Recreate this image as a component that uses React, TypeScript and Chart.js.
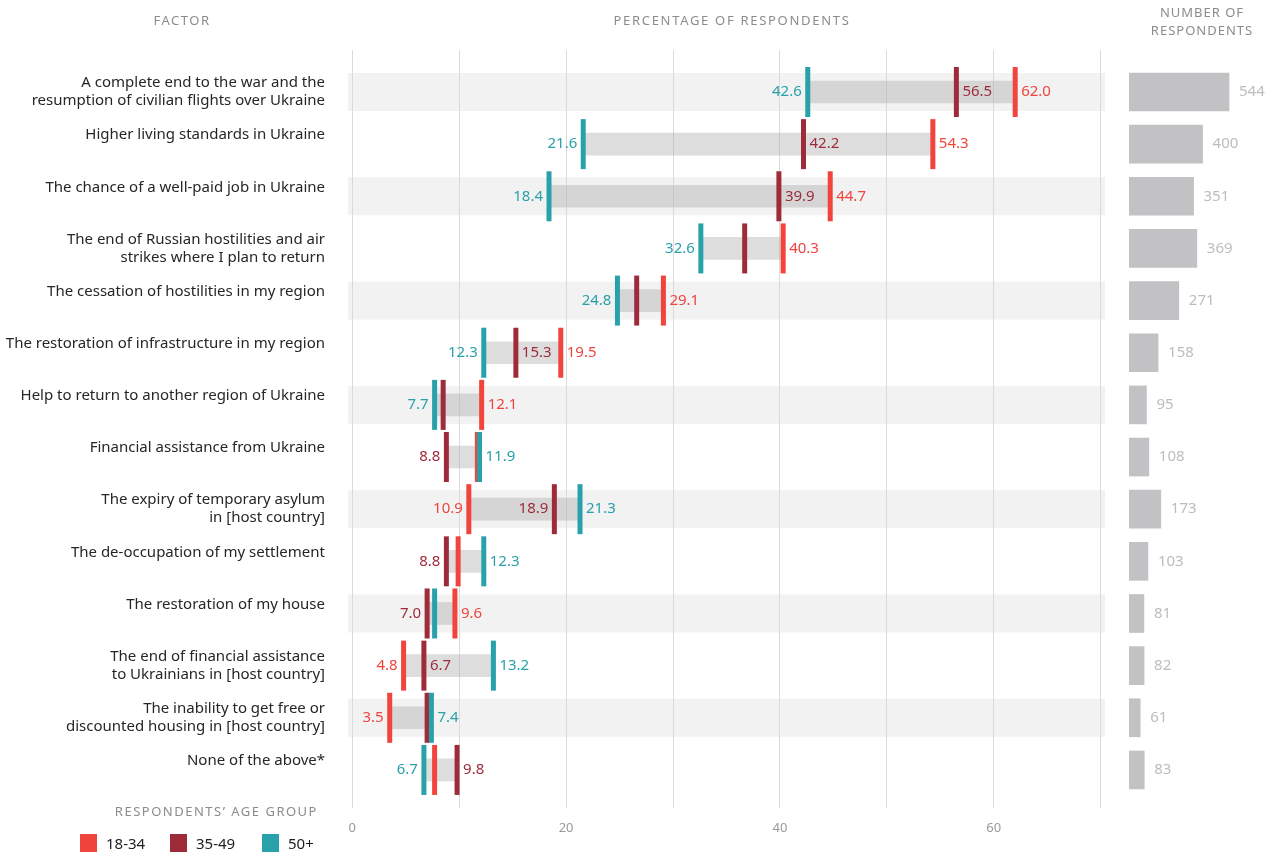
import React, { useEffect, useRef } from 'react';
import { Chart, registerables } from 'chart.js';

Chart.register(...registerables);

// ---------- data ----------
const factorLabels: string[][] = [
  ['A complete end to the war and the', 'resumption of civilian flights over Ukraine'],
  ['Higher living standards in Ukraine'],
  ['The chance of a well-paid job in Ukraine'],
  ['The end of Russian hostilities and air', 'strikes where I plan to return'],
  ['The cessation of hostilities in my region'],
  ['The restoration of infrastructure in my region'],
  ['Help to return to another region of Ukraine'],
  ['Financial assistance from Ukraine'],
  ['The expiry of temporary asylum', 'in [host country]'],
  ['The de-occupation of my settlement'],
  ['The restoration of my house'],
  ['The end of financial assistance', 'to Ukrainians in [host country]'],
  ['The inability to get free or', 'discounted housing in [host country]'],
  ['None of the above*'],
];

const group18to34 = [62.0, 54.3, 44.7, 40.3, 29.1, 19.5, 12.1, 11.7, 10.9, 9.9, 9.6, 4.8, 3.5, 7.7];
const group35to49 = [56.5, 42.2, 39.9, 36.7, 26.6, 15.3, 8.5, 8.8, 18.9, 8.8, 7.0, 6.7, 7.0, 9.8];
const group50plus = [42.6, 21.6, 18.4, 32.6, 24.8, 12.3, 7.7, 11.9, 21.3, 12.3, 7.7, 13.2, 7.4, 6.7];
const respondentCounts = [544, 400, 351, 369, 271, 158, 95, 108, 173, 103, 81, 82, 61, 83];

const ageGroups = ['18-34', '35-49', '50+'];
const percentTicks = [0, 10, 20, 30, 40, 50, 60, 70];
const percentTickLabels = ['0', '', '20', '', '40', '', '60', ''];

// ---------- styles ----------
const groupColors = ['#F0443D', '#9E2B3A', '#29A1AA'];
const FONT = "'Noto Sans', sans-serif";
const Y_MIN = -0.805;
const Y_MAX = 13.73;

export default function App() {
  const leftRef = useRef<HTMLCanvasElement>(null);
  const rightRef = useRef<HTMLCanvasElement>(null);

  useEffect(() => {
    const groups = [group18to34, group35to49, group50plus];
    const rows = factorLabels.map((_, i) => i);

    const bandPlugin = {
      id: 'bands',
      beforeDraw(chart: any) {
        const { ctx, chartArea, scales } = chart;
        ctx.save();
        ctx.fillStyle = '#f2f2f2';
        rows.forEach((i) => {
          if (i % 2 === 0) {
            const y = scales.y.getPixelForValue(i);
            ctx.fillRect(chartArea.left, y - 19, chartArea.right - chartArea.left, 38);
          }
        });
        ctx.restore();
      },
    };

    const valueLabelPlugin = {
      id: 'valueLabels',
      afterDatasetsDraw(chart: any) {
        const { ctx, scales } = chart;
        ctx.save();
        ctx.font = `15px ${FONT}`;
        ctx.textBaseline = 'middle';
        const gap = 6;
        rows.forEach((i) => {
          const y = scales.y.getPixelForValue(i);
          const pts = groups
            .map((g, k) => ({ v: g[i], px: scales.x.getPixelForValue(g[i]), color: groupColors[k] }))
            .sort((a, b) => a.v - b.v);
          const [lo, mid, hi] = pts;
          ctx.fillStyle = lo.color;
          ctx.textAlign = 'right';
          ctx.fillText(lo.v.toFixed(1), lo.px - gap, y);
          ctx.fillStyle = hi.color;
          ctx.textAlign = 'left';
          ctx.fillText(hi.v.toFixed(1), hi.px + gap, y);
          ctx.fillStyle = mid.color;
          if (hi.px - mid.px >= 42) {
            ctx.textAlign = 'left';
            ctx.fillText(mid.v.toFixed(1), mid.px + gap, y);
          } else if (mid.px - lo.px >= 60) {
            ctx.textAlign = 'right';
            ctx.fillText(mid.v.toFixed(1), mid.px - gap, y);
          }
        });
        ctx.restore();
      },
    };

    const countLabelPlugin = {
      id: 'countLabels',
      afterDatasetsDraw(chart: any) {
        const { ctx, scales } = chart;
        ctx.save();
        ctx.font = `15px ${FONT}`;
        ctx.textBaseline = 'middle';
        ctx.textAlign = 'left';
        ctx.fillStyle = '#bdbdbd';
        respondentCounts.forEach((n, i) => {
          ctx.fillText(String(n), scales.x.getPixelForValue(n) + 10, scales.y.getPixelForValue(i));
        });
        ctx.restore();
      },
    };

    const markerDataset = (k: number) => ({
      type: 'scatter' as const,
      label: ageGroups[k],
      data: rows.map((i) => ({ x: groups[k][i], y: i })),
      pointStyle: 'line',
      pointRadius: 25,
      pointHoverRadius: 25,
      pointRotation: 90,
      pointBorderWidth: 5,
      pointHoverBorderWidth: 5,
      pointBorderColor: groupColors[k],
      pointBackgroundColor: groupColors[k],
      borderColor: groupColors[k],
      backgroundColor: groupColors[k],
      showLine: false,
      order: 3 - k,
    });

    const noPad = (s: any) => {
      s.paddingLeft = 0;
      s.paddingRight = 0;
      s.paddingTop = 0;
      s.paddingBottom = 0;
    };

    const left = new Chart(leftRef.current as HTMLCanvasElement, {
      type: 'bar',
      data: {
        datasets: [
          {
            type: 'bar',
            label: 'range',
            indexAxis: 'y',
            data: rows.map((i) => {
              const vals = groups.map((g) => g[i]);
              return { x: [Math.min(...vals), Math.max(...vals)], y: i };
            }),
            backgroundColor: 'rgba(175,175,175,0.42)',
            barThickness: 22,
            grouped: false,
            order: 10,
          } as any,
          markerDataset(0) as any,
          markerDataset(1) as any,
          markerDataset(2) as any,
        ],
      },
      options: {
        responsive: false,
        animation: false,
        indexAxis: 'y',
        layout: { autoPadding: false, padding: { top: 50, right: 5, bottom: 0, left: 0 } },
        plugins: { legend: { display: false }, tooltip: { enabled: false } },
        events: [],
        scales: {
          x: {
            type: 'linear',
            position: 'bottom',
            offset: false,
            min: -0.4,
            max: 70.4,
            afterBuildTicks: (s: any) => {
              s.ticks = percentTicks.map((v) => ({ value: v }));
            },
            afterFit: (s: any) => {
              s.height = 44;
              noPad(s);
            },
            grid: { color: '#dadada', lineWidth: 1, drawTicks: false, offset: false },
            border: { display: false },
            ticks: {
              padding: 12,
              color: '#9a9a9a',
              font: { family: FONT, size: 13 },
              autoSkip: false,
              maxRotation: 0,
              callback: (v: any) => {
                const idx = percentTicks.indexOf(Number(v));
                return idx >= 0 ? percentTickLabels[idx] : '';
              },
            },
          },
          y: {
            type: 'linear',
            offset: false,
            min: Y_MIN,
            max: Y_MAX,
            reverse: true,
            afterBuildTicks: (s: any) => {
              s.ticks = rows.map((v) => ({ value: v }));
            },
            afterFit: (s: any) => {
              s.width = 348;
              noPad(s);
            },
            grid: { display: false, drawTicks: false, offset: false },
            border: { display: false },
            ticks: {
              padding: 23,
              color: '#262626',
              font: { family: FONT, size: 15, lineHeight: 1.2 },
              autoSkip: false,
              callback: (v: any) => {
                const l = factorLabels[Number(v)];
                if (!l) return '';
                return l.length === 1 ? [l[0], ''] : l;
              },
            },
          },
        },
      } as any,
      plugins: [bandPlugin, valueLabelPlugin],
    });

    const right = new Chart(rightRef.current as HTMLCanvasElement, {
      type: 'bar',
      data: {
        datasets: [
          {
            label: 'Number of respondents',
            data: respondentCounts.map((n, i) => ({ x: n, y: i })),
            backgroundColor: '#c2c2c4',
            barThickness: 38,
            grouped: false,
          } as any,
        ],
      },
      options: {
        responsive: false,
        animation: false,
        indexAxis: 'y',
        events: [],
        layout: { autoPadding: false, padding: { top: 50, right: 0, bottom: 44, left: 19 } },
        plugins: { legend: { display: false }, tooltip: { enabled: false } },
        scales: {
          x: { type: 'linear', offset: false, min: 0, max: 794, display: false },
          y: { type: 'linear', offset: false, min: Y_MIN, max: Y_MAX, reverse: true, display: false },
        },
      } as any,
      plugins: [countLabelPlugin],
    });

    return () => {
      left.destroy();
      right.destroy();
    };
  }, []);

  const headerStyle: React.CSSProperties = {
    position: 'absolute',
    fontFamily: FONT,
    fontSize: 13,
    letterSpacing: '1.5px',
    color: '#8c8c8c',
    lineHeight: '18px',
    whiteSpace: 'nowrap',
    textAlign: 'center',
    transform: 'translateX(-50%)',
  };

  return (
    <div
      style={{
        position: 'fixed',
        left: 0,
        top: 0,
        width: 1275,
        height: 852,
        background: '#ffffff',
        overflow: 'hidden',
        fontFamily: FONT,
      }}
    >
      <canvas ref={leftRef} width={1110} height={852} style={{ position: 'absolute', left: 0, top: 0 }} />
      <canvas ref={rightRef} width={165} height={852} style={{ position: 'absolute', left: 1110, top: 0 }} />

      <div style={{ ...headerStyle, left: 182, top: 11 }}>FACTOR</div>
      <div style={{ ...headerStyle, left: 732, top: 11, letterSpacing: '1.7px' }}>PERCENTAGE OF RESPONDENTS</div>
      <div style={{ ...headerStyle, left: 1202, top: 3, letterSpacing: '1px' }}>
        NUMBER OF
        <br />
        RESPONDENTS
      </div>

      <div
        style={{
          ...headerStyle,
          transform: 'none',
          textAlign: 'right',
          left: 'auto',
          right: 1275 - 318,
          top: 802,
        }}
      >
        RESPONDENTS’ AGE GROUP
      </div>

      {ageGroups.map((g, k) => (
        <div
          key={g}
          style={{
            position: 'absolute',
            left: [80, 170, 262][k],
            top: 834,
            display: 'flex',
            alignItems: 'center',
            fontFamily: FONT,
            fontSize: 15,
            color: '#222222',
            lineHeight: '18px',
          }}
        >
          <span style={{ display: 'inline-block', width: 17, height: 18, background: groupColors[k], marginRight: 9 }} />
          <span>{g}</span>
        </div>
      ))}
    </div>
  );
}
